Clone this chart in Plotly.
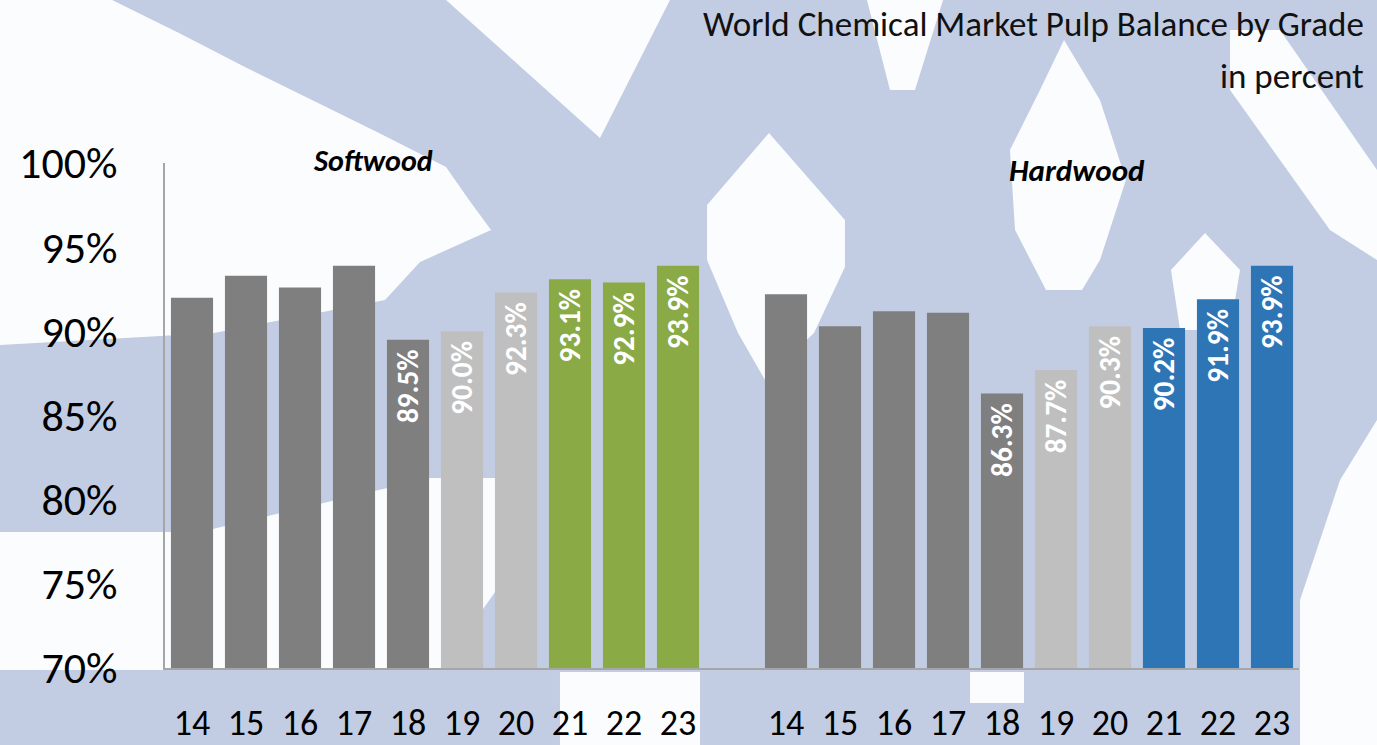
import plotly.graph_objects as go

years = ["14", "15", "16", "17", "18", "19", "20", "21", "22", "23"]
softwood = [92.0, 93.3, 92.6, 93.9, 89.5, 90.0, 92.3, 93.1, 92.9, 93.9]
hardwood = [92.2, 90.3, 91.2, 91.1, 86.3, 87.7, 90.3, 90.2, 91.9, 93.9]
y_ticks = [70, 75, 80, 85, 90, 95, 100]

# bar colours: history dark grey, recent light grey, forecast coloured
soft_colors = ["#7F7F7F"] * 5 + ["#BFBFBF"] * 2 + ["#8AAA46"] * 3
hard_colors = ["#7F7F7F"] * 5 + ["#BFBFBF"] * 2 + ["#2E75B6"] * 3
labelled = [False] * 4 + [True] * 6

FONT = "Carlito, Lato, sans-serif"
W, H = 1377, 745
L, R, T, B = 165, 78, 163, 77

soft_x = list(range(len(years)))
hard_x = [i + len(years) + 1 for i in range(len(years))]

fig = go.Figure()
for xs, vals, cols in [(soft_x, softwood, soft_colors), (hard_x, hardwood, hard_colors)]:
    fig.add_trace(go.Bar(
        x=xs,
        y=vals,
        marker=dict(color=cols, line=dict(width=0)),
        # trailing nbsp keeps the label a little below the bar top
        text=[f"{v:.1f}%\u00a0" if lab else "" for v, lab in zip(vals, labelled)],
        textposition="inside",
        insidetextanchor="end",
        textangle=-90,
        textfont=dict(family=FONT, size=30, color="white", weight="bold"),
        hoverinfo="skip",
        showlegend=False,
    ))


# pixel -> paper coordinates for the decorative background
def px(x):
    return (x - L) / (W - L - R)


def py(y):
    return 1 - (y - T) / (H - T - B)


def poly(points):
    return "M " + " L ".join(f"{px(x):.4f},{py(y):.4f}" for x, y in points) + " Z"


# rough outline of the pale pixelated watermark (white holes on a blue field)
holes = [
    [(0, 0), (112, 0), (179, 33), (245, 67), (312, 100), (379, 133), (446, 167),
     (469, 200), (491, 230), (420, 262), (385, 300), (214, 333), (0, 345)],
    [(446, 0), (670, 0), (600, 138)],
    [(0, 532), (200, 532), (430, 478), (500, 478), (500, 585), (440, 670), (0, 670)],
    [(560, 672), (700, 672), (700, 745), (560, 745)],
    [(769, 133), (845, 220), (845, 267), (814, 333), (765, 380), (738, 333), (707, 260), (707, 205)],
    [(867, 0), (943, 0), (915, 90), (890, 90)],
    [(1064, 40), (1100, 100), (1126, 180), (1100, 260), (1082, 290), (1046, 290),
     (1015, 230), (1010, 150), (1040, 90)],
    [(1205, 233), (1240, 270), (1230, 330), (1180, 330), (1171, 270)],
    [(1230, 30), (1280, 30), (1377, 170), (1377, 260), (1330, 230), (1230, 90)],
    [(1377, 420), (1377, 745), (1300, 745), (1300, 600), (1340, 480)],
    [(970, 672), (1024, 672), (1024, 703), (970, 703)],
]
shapes = [dict(type="path", xref="paper", yref="paper", layer="below", path=poly(p),
               fillcolor="#FBFCFE", line=dict(width=0)) for p in holes]

fig.update_layout(
    width=W, height=H,
    margin=dict(l=L, r=R, t=T, b=B),
    paper_bgcolor="#C2CDE3",
    plot_bgcolor="rgba(0,0,0,0)",
    bargap=0.22,
    font=dict(family=FONT, color="#000000"),
    shapes=shapes,
    xaxis=dict(
        range=[-0.5, 2 * len(years) + 0.5],
        tickvals=soft_x + hard_x,
        ticktext=years + years,
        tickfont=dict(size=36),
        ticks="",
        showgrid=False,
        zeroline=False,
        showline=True,
        linecolor="#A6A6A6",
        linewidth=1.5,
        ticklabelstandoff=22,
        automargin=False,
    ),
    yaxis=dict(
        range=[70, 100],
        tickvals=y_ticks,
        ticktext=[f"{v}%" for v in y_ticks],
        tickfont=dict(size=44),
        ticks="",
        showgrid=False,
        zeroline=False,
        showline=True,
        linecolor="#A6A6A6",
        linewidth=1.5,
        ticklabelstandoff=37,
        automargin=False,
    ),
    annotations=[
        dict(text="World Chemical Market Pulp Balance by Grade", xref="paper", yref="paper",
             x=px(1366), y=py(24), xanchor="right", yanchor="middle", showarrow=False,
             font=dict(size=35, color="#111111")),
        dict(text="in percent", xref="paper", yref="paper",
             x=px(1366), y=py(76), xanchor="right", yanchor="middle", showarrow=False,
             font=dict(size=35, color="#111111")),
        dict(text="<b><i>Softwood</i></b>", xref="paper", yref="paper",
             x=px(373), y=py(160), xanchor="center", yanchor="middle", showarrow=False,
             font=dict(size=30)),
        dict(text="<b><i>Hardwood</i></b>", xref="paper", yref="paper",
             x=px(1077), y=py(170), xanchor="center", yanchor="middle", showarrow=False,
             font=dict(size=31)),
    ],
)

fig.write_html("out.html", config={"displayModeBar": False},
               post_script="document.body.style.margin='0';")
